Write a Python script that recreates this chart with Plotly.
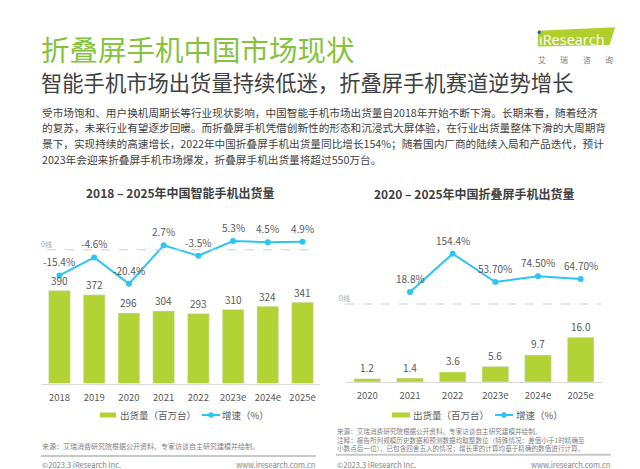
import plotly.graph_objects as go

# ---------------- data ----------------
phone_years = ["2018", "2019", "2020", "2021", "2022", "2023e", "2024e", "2025e"]
phone_shipments = [390, 372, 296, 304, 293, 310, 324, 341]
phone_growth = [-15.4, -4.6, -20.4, 2.7, -3.5, 5.3, 4.5, 4.9]
phone_growth_labels = ["-15.4%", "-4.6%", "-20.4%", "2.7%", "-3.5%", "5.3%", "4.5%", "4.9%"]

fold_years = ["2020", "2021", "2022", "2023e", "2024e", "2025e"]
fold_shipments = [1.2, 1.4, 3.6, 5.6, 9.7, 16.0]
fold_shipment_labels = ["1.2", "1.4", "3.6", "5.6", "9.7", "16.0"]
fold_growth_years = ["2021", "2022", "2023e", "2024e", "2025e"]
fold_growth = [18.8, 154.4, 53.7, 74.5, 64.7]
fold_growth_labels = ["18.8%", "154.4%", "53.70%", "74.50%", "64.70%"]

title = "折叠屏手机中国市场现状"
subtitle = "智能手机市场出货量持续低迷，折叠屏手机赛道逆势增长"
paragraph = [
    "受市场饱和、用户换机周期长等行业现状影响，中国智能手机市场出货量自2018年开始不断下滑。长期来看，随着经济",
    "的复苏，未来行业有望逐步回暖。而折叠屏手机凭借创新性的形态和沉浸式大屏体验，在行业出货量整体下滑的大周期背",
    "景下，实现持续的高速增长，2022年中国折叠屏手机出货量同比增长154%；随着国内厂商的陆续入局和产品迭代，预计",
    "2023年会迎来折叠屏手机市场爆发，折叠屏手机出货量将超过550万台。",
]
chart1_title = "2018 – 2025年中国智能手机出货量"
chart2_title = "2020 – 2025年中国折叠屏手机出货量"
legend_bar = "出货量（百万台）"
legend_line = "增速（%）"
source_left = "来源：艾瑞消费研究院根据公开资料、专家访谈自主研究建模并绘制。"
source_right = [
    "来源：艾瑞消费研究院根据公开资料、专家访谈自主研究建模并绘制。",
    "注释：报告所列规模历史数据和预测数据均取整数位（特殊情况：差值小于1时精确至",
    "小数点后一位），已包含四舍五入的情况；增长率的计算均基于精确的数值进行计算。",
]
footer_left = "©2023.3 iResearch Inc."
footer_right = "www.iresearch.com.cn"
logo_sub = ["艾", "瑞", "咨", "询"]

# ---------------- style ----------------
W, H = 640, 469
FONT = "Noto Sans CJK SC, Noto Sans, sans-serif"
GREEN_BAR = "#B3D236"
BLUE = "#2BC4F3"
TITLE_GREEN = "#86C23E"
DARK = "#404040"
MID = "#595959"
LIGHT = "#808080"


def px(x):
    return x / W


def py(y):
    return 1 - y / H


fig = go.Figure()

fig.add_trace(go.Bar(x=phone_years, y=phone_shipments, marker_color=GREEN_BAR,
                     xaxis="x", yaxis="y", showlegend=False, hoverinfo="skip"))
fig.add_trace(go.Scatter(x=phone_years, y=phone_growth, mode="lines+markers",
                         line=dict(color=BLUE, width=2), marker=dict(size=6, color=BLUE),
                         xaxis="x", yaxis="y2", showlegend=False, hoverinfo="skip"))
fig.add_trace(go.Bar(x=fold_years, y=fold_shipments, marker_color=GREEN_BAR,
                     xaxis="x2", yaxis="y3", showlegend=False, hoverinfo="skip"))
fig.add_trace(go.Scatter(x=fold_growth_years, y=fold_growth, mode="lines+markers",
                         line=dict(color=BLUE, width=2), marker=dict(size=6, color=BLUE),
                         xaxis="x2", yaxis="y4", showlegend=False, hoverinfo="skip"))

ann = []


def txt(x, y, text, size, color=DARK, xanchor="left", bold=False, family=FONT):
    t = f"<b>{text}</b>" if bold else text
    ann.append(dict(x=px(x), y=py(y), xref="paper", yref="paper", text=t, showarrow=False,
                    xanchor=xanchor, yanchor="middle", align="left",
                    font=dict(family=family, size=size, color=color), borderpad=0))


def data_label(cat_list, cat, v, s, xref, yref, shift):
    # category position taken from the axis' own category order
    ann.append(dict(x=cat_list.index(cat), y=v, xref=xref, yref=yref, text=s, showarrow=False,
                    yanchor="middle", yshift=shift, font=dict(family=FONT, size=10, color=MID)))


for c, v in zip(phone_years, phone_shipments):
    data_label(phone_years, c, v, str(v), "x", "y", 10)
for c, v, s in zip(phone_years, phone_growth, phone_growth_labels):
    data_label(phone_years, c, v, s, "x", "y2", 13.5)
for c, v, s in zip(fold_years, fold_shipments, fold_shipment_labels):
    data_label(fold_years, c, v, s, "x2", "y3", 11)
for c, v, s in zip(fold_growth_years, fold_growth, fold_growth_labels):
    data_label(fold_years, c, v, s, "x2", "y4", 13.5)

# header texts
txt(32, 40, title, 28.5, TITLE_GREEN)
txt(32, 74, subtitle, 21.3, DARK)
for i, line in enumerate(paragraph):
    txt(33, 104 + i * 15.8, line, 10.65, DARK)

# logo
txt(563.5, 31, "ıResearch", 14.5, "white", xanchor="center", family="Open Sans, Noto Sans, sans-serif")
for xc, ch in zip([533.5, 556, 578.5, 601], logo_sub):
    txt(xc, 51.7, ch, 8, LIGHT, xanchor="center")

# chart titles
txt(172.5, 184, chart1_title, 12, DARK, xanchor="center", bold=True)
txt(466.7, 185, chart2_title, 12, DARK, xanchor="center", bold=True)
txt(38.5, 236, "0线", 7, "#a6a6a6", xanchor="center")
txt(336, 290, "0线", 7, "#a6a6a6", xanchor="center")

# legends
txt(110.5, 407, legend_bar, 9.5, MID)
txt(213, 407, legend_line, 9.5, MID)
txt(404, 407, legend_bar, 9.5, MID)
txt(507, 407, legend_line, 9.5, MID)

# sources & footers
txt(33, 438, source_left, 7, LIGHT)
txt(328, 431.3, "<br>".join(source_right), 6.6, LIGHT)
txt(33, 456, footer_left, 7.5, LIGHT)
txt(308, 456, footer_right, 7.5, LIGHT, xanchor="right")
txt(328, 456, footer_left, 7.5, LIGHT)
txt(603, 456, footer_right, 7.5, LIGHT, xanchor="right")
txt(626, 455, "8", 9, LIGHT, xanchor="center")

shapes = []


def pline(x0, y0, x1, y1, color, width=1, dash="solid"):
    shapes.append(dict(type="line", xref="paper", yref="paper", x0=px(x0), y0=py(y0), x1=px(x1), y1=py(y1),
                       line=dict(color=color, width=width, dash=dash)))


def prect(x0, y0, x1, y1, color):
    shapes.append(dict(type="rect", xref="paper", yref="paper", x0=px(x0), y0=py(y0), x1=px(x1), y1=py(y1),
                       line=dict(width=0), fillcolor=color))


def pcircle(xc, yc, r, color):
    shapes.append(dict(type="circle", xref="paper", yref="paper", x0=px(xc - r), y0=py(yc + r),
                       x1=px(xc + r), y1=py(yc - r), line=dict(width=0), fillcolor=color))


# logo shape
path = "M {} {} L {} {} L {} {} L {} {} Z".format(px(530), py(22.7), px(607), py(19.3), px(601.5), py(37), px(530), py(38.5))
shapes.append(dict(type="path", xref="paper", yref="paper", path=path, fillcolor="#AFCF2A", line=dict(width=0), layer="below"))
pcircle(531.3, 24.2, 1.7, "#1F5FA8")

# zero dashed lines
shapes.append(dict(type="line", xref="paper", yref="y2", x0=px(39), x1=px(307), y0=0, y1=0,
                   line=dict(color="#cfcfcf", width=1, dash="dash")))
pline(337, 296, 593, 296, "#cfcfcf", 1, "dash")

# legend swatches
prect(92, 404.5, 108, 409.5, GREEN_BAR)
pline(194, 407, 212, 407, BLUE, 2)
pcircle(203, 407, 2.8, BLUE)
prect(384, 404.5, 402, 409.5, GREEN_BAR)
pline(487, 407, 505, 407, BLUE, 2)
pcircle(496, 407, 2.8, BLUE)

# separators
pline(33, 448, 308, 448, "#c8c8c8", 2)
pline(328, 446.7, 603, 446.7, "#c8c8c8", 2)

axis_common = dict(type="category", showline=True, linecolor="#d9d9d9", linewidth=1, ticks="outside",
                   ticklen=5, tickcolor="rgba(0,0,0,0)", showgrid=False, zeroline=False,
                   tickfont=dict(family=FONT, size=9.5, color=MID), fixedrange=True, autorange=False)

fig.update_layout(
    width=W, height=H, margin=dict(l=0, r=0, t=0, b=0),
    paper_bgcolor="white", plot_bgcolor="rgba(0,0,0,0)",
    bargap=0.375, showlegend=False,
    xaxis=dict(domain=[34.1 / W, 311.9 / W], anchor="y", categoryorder="array", categoryarray=phone_years,
               range=[-0.5, len(phone_years) - 0.5], **axis_common),
    yaxis=dict(domain=[py(375.5), py(200)], range=[0, 735.8], visible=False),
    yaxis2=dict(overlaying="y", anchor="x", range=[-80.2, 25.08], visible=False),
    xaxis2=dict(domain=[338 / W, 594 / W], anchor="y3", categoryorder="array", categoryarray=fold_years,
                range=[-0.5, len(fold_years) - 0.5], **axis_common),
    yaxis3=dict(domain=[py(374), py(200)], range=[0, 62.37], visible=False, anchor="x2"),
    yaxis4=dict(overlaying="y3", anchor="x2", range=[-300.8, 316.4], visible=False),
    annotations=ann, shapes=shapes,
)

fig.write_html("out.html")
